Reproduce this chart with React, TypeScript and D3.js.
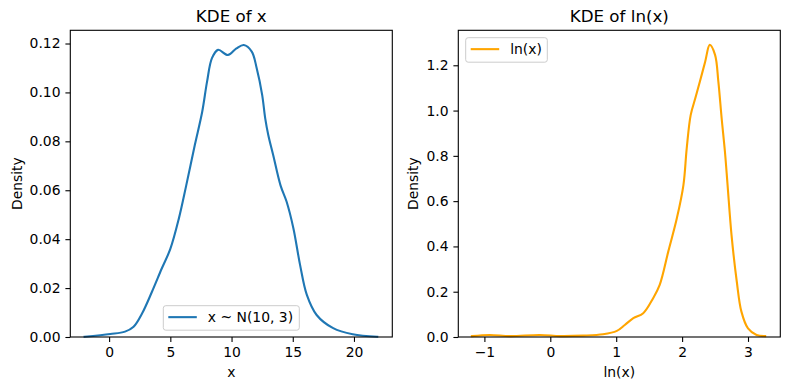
import React, { useEffect, useRef } from "react";
import * as d3 from "d3";

// KDE of x ~ N(10, 3)
const xGrid = [-2.0, 0.1, 1.3, 2.0, 2.7, 3.5, 4.3, 5.0, 5.7, 6.3, 7.0, 7.6, 8.0, 8.4, 8.9, 9.7, 10.4, 11.0, 11.65, 12.05, 12.5, 12.75, 13.0, 13.4, 14.0, 14.5, 15.05, 15.6, 16.15, 16.95, 18.3, 19.9, 21.9];
const xDensity = [0.0001, 0.0012, 0.0022, 0.0042, 0.0097, 0.0185, 0.028, 0.036, 0.0485, 0.062, 0.0785, 0.092, 0.1044, 0.114, 0.1174, 0.1153, 0.118, 0.1194, 0.1167, 0.11, 0.099, 0.0894, 0.0826, 0.0744, 0.062, 0.0553, 0.0445, 0.0294, 0.0172, 0.009, 0.0036, 0.0011, 0.0001];

// KDE of ln(x)
const lnGrid = [-1.19, -0.92, -0.61, -0.16, 0.15, 0.5, 0.8, 1.01, 1.13, 1.26, 1.41, 1.56, 1.66, 1.79, 1.92, 2.02, 2.07, 2.13, 2.2, 2.27, 2.35, 2.42, 2.5, 2.55, 2.6, 2.65, 2.69, 2.75, 2.83, 2.9, 3.0, 3.13, 3.26];
const lnDensity = [0.004, 0.009, 0.004, 0.009, 0.004, 0.006, 0.012, 0.027, 0.053, 0.083, 0.105, 0.171, 0.23, 0.377, 0.524, 0.671, 0.833, 0.98, 1.054, 1.128, 1.216, 1.29, 1.246, 1.128, 0.966, 0.818, 0.671, 0.45, 0.244, 0.112, 0.038, 0.009, 0.004];

const xTicks = [0, 5, 10, 15, 20];
const xDensityTicks = [0, 0.02, 0.04, 0.06, 0.08, 0.1, 0.12];
const lnTicks = [-1, 0, 1, 2, 3];
const lnDensityTicks = [0, 0.2, 0.4, 0.6, 0.8, 1.0, 1.2];

const FONT = "DejaVu Sans";

const panels = [
  {
    xs: xGrid, ys: xDensity, xTicks, yTicks: xDensityTicks,
    xFmt: d3.format("d"), yFmt: d3.format(".2f"),
    xDomain: [-3.17, 23.13], yDomain: [0, 0.1254],
    left: 70.3, right: 392.3, top: 30.3, bottom: 337,
    color: "#1f77b4", title: "KDE of x", xLabel: "x", label: "x ~ N(10, 3)",
    ylabX: 21.5,
    legend: { x: 163.3, y: 305.7, w: 136, h: 24.5 },
  },
  {
    xs: lnGrid, ys: lnDensity, xTicks: lnTicks, yTicks: lnDensityTicks,
    xFmt: d3.format("d"), yFmt: d3.format(".1f"),
    xDomain: [-1.396, 3.49], yDomain: [0, 1.3545],
    left: 458.3, right: 780.3, top: 30.3, bottom: 337,
    color: "orange", title: "KDE of ln(x)", xLabel: "ln(x)", label: "ln(x)",
    ylabX: 418.3,
    legend: { x: 465.7, y: 37.7, w: 81.6, h: 24.5 },
  },
];

const App = () => {
  const ref = useRef<SVGSVGElement>(null);

  useEffect(() => {
    if (!ref.current) return;
    const svg = d3.select(ref.current);
    svg.selectAll("*").remove();

    panels.forEach((p) => {
      const x = d3.scaleLinear().domain(p.xDomain).range([p.left, p.right]);
      const y = d3.scaleLinear().domain(p.yDomain).range([p.bottom, p.top]);
      const g = svg.append("g");

      // x axis
      g.append("g")
        .attr("transform", "translate(0," + p.bottom + ")")
        .call(d3.axisBottom(x).tickValues(p.xTicks).tickFormat(p.xFmt as any).tickSize(4.9).tickPadding(4.9).tickSizeOuter(0))
        .call((a) => a.select(".domain").remove())
        .attr("font-family", FONT)
        .attr("font-size", 13.9)
        .selectAll("line").attr("stroke", "#000").attr("stroke-width", 1.1);

      // y axis
      g.append("g")
        .attr("transform", "translate(" + p.left + ",0)")
        .call(d3.axisLeft(y).tickValues(p.yTicks).tickFormat(p.yFmt as any).tickSize(4.9).tickPadding(4.9).tickSizeOuter(0))
        .call((a) => a.select(".domain").remove())
        .attr("font-family", FONT)
        .attr("font-size", 13.9)
        .selectAll("line").attr("stroke", "#000").attr("stroke-width", 1.1);

      // density curve
      const line = d3
        .line<number>()
        .x((d, i) => x(p.xs[i]))
        .y((d) => y(d))
        .curve(d3.curveCatmullRom.alpha(0.5));
      g.append("path")
        .datum(p.ys)
        .attr("d", line)
        .attr("fill", "none")
        .attr("stroke", p.color)
        .attr("stroke-width", 2.1)
        .attr("stroke-linejoin", "round")
        .attr("stroke-linecap", "square");

      // spines
      g.append("rect")
        .attr("x", p.left)
        .attr("y", p.top)
        .attr("width", p.right - p.left)
        .attr("height", p.bottom - p.top)
        .attr("fill", "none")
        .attr("stroke", "#000")
        .attr("stroke-width", 1.1);

      // title + labels
      g.append("text")
        .attr("x", (p.left + p.right) / 2)
        .attr("y", 22)
        .attr("text-anchor", "middle")
        .attr("font-family", FONT)
        .attr("font-size", 16.7)
        .text(p.title);
      g.append("text")
        .attr("x", (p.left + p.right) / 2)
        .attr("y", 376.5)
        .attr("text-anchor", "middle")
        .attr("font-family", FONT)
        .attr("font-size", 13.9)
        .text(p.xLabel);
      g.append("text")
        .attr("transform", "translate(" + p.ylabX + "," + (p.top + p.bottom) / 2 + ") rotate(-90)")
        .attr("text-anchor", "middle")
        .attr("font-family", FONT)
        .attr("font-size", 13.9)
        .text("Density");

      // legend
      const lg = p.legend;
      g.append("rect")
        .attr("x", lg.x)
        .attr("y", lg.y)
        .attr("width", lg.w)
        .attr("height", lg.h)
        .attr("rx", 2.5)
        .attr("fill", "#fff")
        .attr("fill-opacity", 0.8)
        .attr("stroke", "#cccccc")
        .attr("stroke-width", 1);
      const cy = lg.y + lg.h / 2 - 0.8;
      g.append("line")
        .attr("x1", lg.x + 5)
        .attr("x2", lg.x + 33.5)
        .attr("y1", cy)
        .attr("y2", cy)
        .attr("stroke", p.color)
        .attr("stroke-width", 2.1);
      g.append("text")
        .attr("x", lg.x + 44.5)
        .attr("y", cy + 5)
        .attr("font-family", FONT)
        .attr("font-size", 13.9)
        .text(p.label);
    });
  }, []);

  return (
    <svg
      ref={ref}
      width={790}
      height={390}
      style={{ position: "absolute", left: 0, top: 0, background: "#fff" }}
    />
  );
};

export default App;
